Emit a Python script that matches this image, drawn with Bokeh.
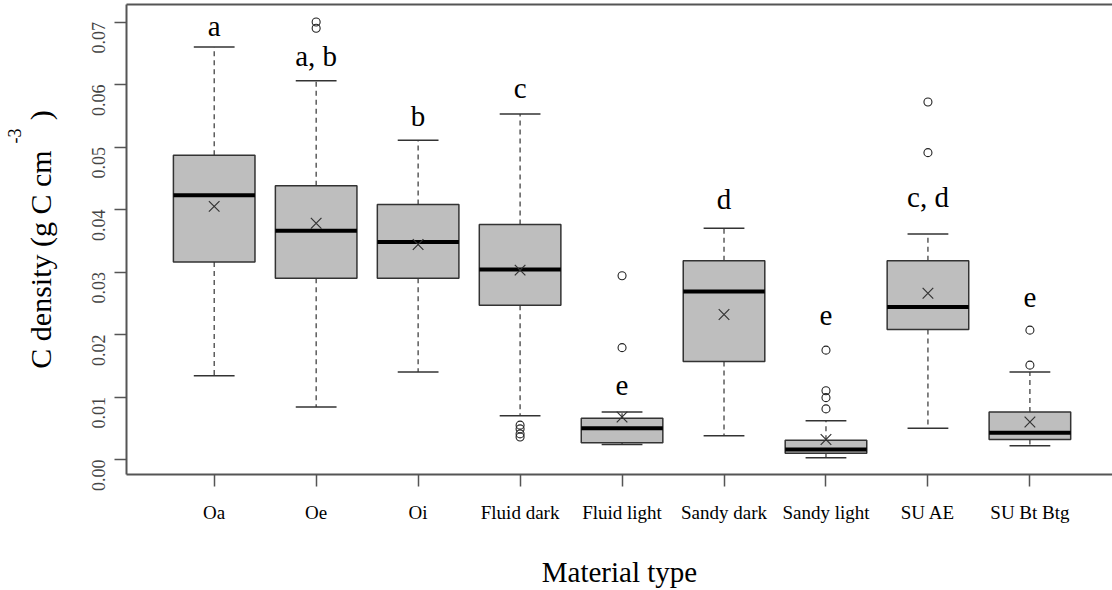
from math import pi
from bokeh.plotting import figure
from bokeh.models import FixedTicker, LinearAxis, Range1d, PrintfTickFormatter, Title
from bokeh.embed import file_html
from bokeh.resources import INLINE
from bokeh.core.properties import value

categories = ["Oa", "Oe", "Oi", "Fluid dark", "Fluid light", "Sandy dark",
              "Sandy light", "SU AE", "SU Bt Btg"]
lower_whisker = [0.0134, 0.0084, 0.0140, 0.0070, 0.0024, 0.0038, 0.0003, 0.0050, 0.0022]
q1 = [0.0316, 0.0290, 0.0290, 0.0247, 0.0027, 0.0157, 0.0010, 0.0208, 0.0032]
median = [0.0423, 0.0366, 0.0348, 0.0304, 0.0050, 0.0269, 0.0016, 0.0244, 0.0043]
q3 = [0.0487, 0.0438, 0.0408, 0.0376, 0.0066, 0.0318, 0.0031, 0.0318, 0.0076]
upper_whisker = [0.0660, 0.0606, 0.0511, 0.0553, 0.0076, 0.0370, 0.0062, 0.0361, 0.0140]
means = [0.0405, 0.0378, 0.0344, 0.0303, 0.0068, 0.0232, 0.0032, 0.0266, 0.0060]
outliers = [[], [0.0700, 0.0690], [], [0.0055, 0.0049, 0.0041, 0.0036],
            [0.0294, 0.0179], [], [0.0175, 0.0110, 0.0099, 0.0081],
            [0.0572, 0.0491], [0.0207, 0.0151]]
letters = ["a", "a, b", "b", "c", "e", "d", "e", "c, d", "e"]
letter_y = [0.0694, 0.0646, 0.0549, 0.0595, 0.0119, 0.0417, 0.0230, 0.0420, 0.0259]
y_ticks = [0.00, 0.01, 0.02, 0.03, 0.04, 0.05, 0.06, 0.07]

SERIF = "Liberation Serif"
FRAME = "#555555"
xs = list(range(1, len(categories) + 1))
BOX_W = 0.8
CAP_W = 0.4

p = figure(width=1112, height=590, output_backend="svg", toolbar_location=None,
           x_range=Range1d(0.14, 9.81), y_range=Range1d(-0.0024, 0.0728),
           min_border_left=126, min_border_right=0, min_border_top=4,
           min_border_bottom=0, outline_line_color=None)
p.xgrid.visible = False
p.ygrid.visible = False

# whiskers (dashed)
p.segment(xs, q3, xs, upper_whisker, line_color="#333333", line_width=1.2, line_dash="5 4")
p.segment(xs, q1, xs, lower_whisker, line_color="#333333", line_width=1.2, line_dash="5 4")
# caps
p.segment([x - CAP_W / 2 for x in xs], upper_whisker, [x + CAP_W / 2 for x in xs], upper_whisker,
          line_color="#333333", line_width=1.5)
p.segment([x - CAP_W / 2 for x in xs], lower_whisker, [x + CAP_W / 2 for x in xs], lower_whisker,
          line_color="#333333", line_width=1.5)
# boxes
p.vbar(x=xs, width=BOX_W, bottom=q1, top=q3, fill_color="#bebebe",
       line_color="#333333", line_width=1.5)
# medians
p.segment([x - BOX_W / 2 for x in xs], median, [x + BOX_W / 2 for x in xs], median,
          line_color="black", line_width=4)
# means
p.scatter(xs, means, marker="x", size=15, line_color="#333333", line_width=1.2)
# outliers
ox, oy = [], []
for x, vals in zip(xs, outliers):
    for v in vals:
        ox.append(x)
        oy.append(v)
p.scatter(ox, oy, marker="circle", size=8, fill_color=None, line_color="#222222", line_width=1.1)
# letters
p.text(xs, letter_y, text=letters, text_font=value(SERIF), text_font_size="29px",
       text_align="center", text_baseline="middle", text_color="black")

# x axis
xa = p.xaxis[0]
xa.ticker = FixedTicker(ticks=xs)
xa.major_label_overrides = {x: c for x, c in zip(xs, categories)}
xa.major_label_text_font = SERIF
xa.major_label_text_font_size = "19px"
xa.major_label_text_color = "black"
xa.major_label_standoff = 15
xa.major_tick_out = 12
xa.major_tick_in = 0
xa.minor_tick_out = 0
xa.minor_tick_in = 0
xa.major_tick_line_color = FRAME
xa.major_tick_line_width = 1.5
xa.axis_line_color = FRAME
xa.axis_line_width = 2
xa.axis_label = "Material type"
xa.axis_label_text_font = SERIF
xa.axis_label_text_font_size = "29px"
xa.axis_label_text_font_style = "normal"
xa.axis_label_text_color = "black"
xa.axis_label_standoff = 30

# y axis
ya = p.yaxis[0]
ya.ticker = FixedTicker(ticks=y_ticks)
ya.formatter = PrintfTickFormatter(format="%.2f")
ya.major_label_orientation = pi / 2
ya.major_label_text_font = SERIF
ya.major_label_text_font_size = "18px"
ya.major_label_text_color = "#444444"
ya.major_label_standoff = 16
ya.major_tick_out = 12
ya.major_tick_in = 0
ya.minor_tick_out = 0
ya.minor_tick_in = 0
ya.major_tick_line_color = FRAME
ya.major_tick_line_width = 1.5
ya.axis_line_color = FRAME
ya.axis_line_width = 2
ya.axis_label = "C density (g C cm\u2003)"
ya.axis_label_text_font = SERIF
ya.axis_label_text_font_size = "30px"
ya.axis_label_text_font_style = "normal"
ya.axis_label_text_color = "black"
ya.axis_label_standoff = 26

# top border line
top = LinearAxis(ticker=FixedTicker(ticks=[]), major_label_text_font_size="0px",
                 major_tick_out=0, major_tick_in=0, minor_tick_out=0, minor_tick_in=0,
                 axis_line_color=FRAME, axis_line_width=2, major_label_standoff=0)
p.add_layout(top, "above")

# superscript of the y axis title
p.add_layout(Title(text="-3", align="right", offset=124,
                   text_font=SERIF, text_font_size="18px", text_font_style="normal",
                   text_color="black", standoff=0), "left")

open("out.html", "w").write(file_html(p, INLINE))
